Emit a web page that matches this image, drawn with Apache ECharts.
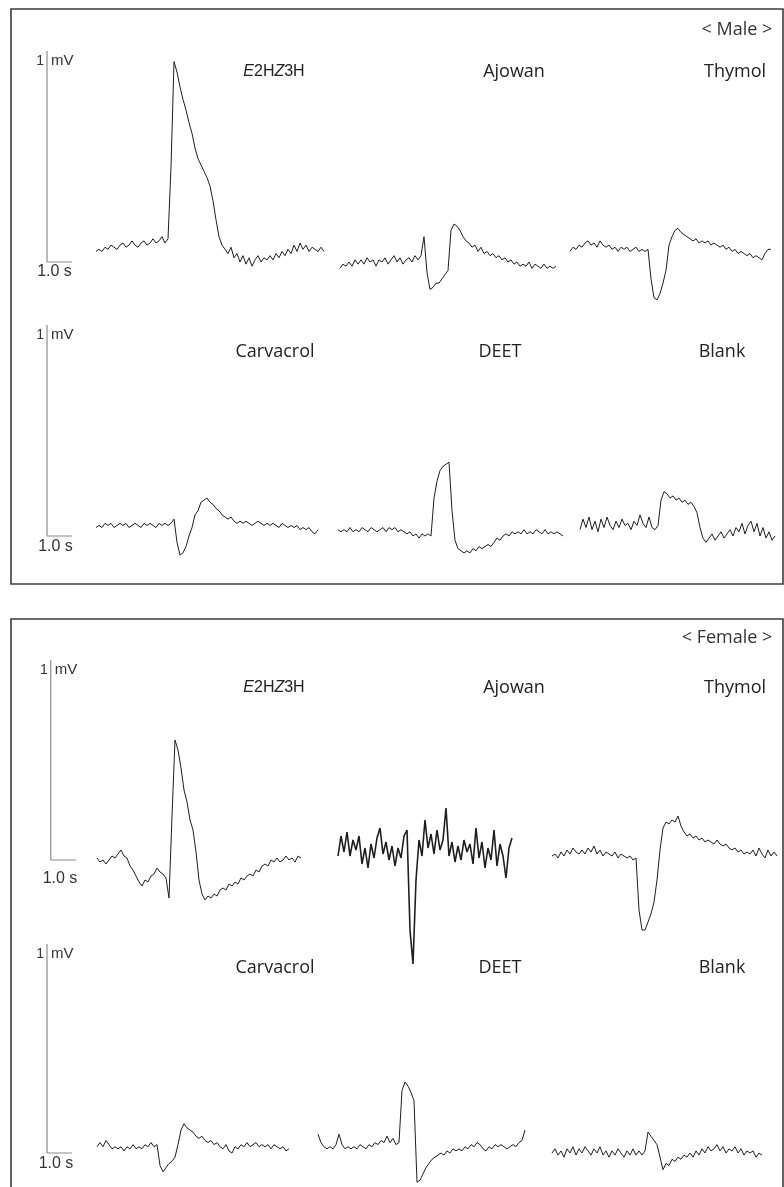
<!DOCTYPE html>
<html>
<head>
<meta charset="utf-8">
<title>EAG responses</title>
<script src="https://cdn.jsdelivr.net/npm/echarts@6/dist/echarts.min.js"></script>
<style>
  html, body { margin: 0; padding: 0; background: #fff; }
  #main { width: 784px; height: 1187px; }
</style>
</head>
<body>
<div id="main"></div>
<script>
// sample spacing of every trace (s)
const DT = 0.12;

const stimuli = ["E2HZ3H", "Ajowan", "Thymol", "Carvacrol", "DEET", "Blank"];
const sexLabels = ["< Male >", "< Female >"];
const scaleV = ["1", "mV"];
const scaleT = "1.0 s";

// start time (s) of each trace, same order as stimuli
const maleStarts = [1.96, 11.72, 20.92, 1.96, 11.64, 21.32];
const femaleStarts = [2.0, 11.64, 20.2, 2.0, 10.84, 20.2];

// EAG amplitude (mV), one value every DT seconds
const maleE2HZ3H = [0.05,0.06,0.05,0.07,0.06,0.08,0.07,0.06,0.08,0.09,0.07,0.08,0.10,0.08,0.07,0.09,0.10,0.08,0.09,0.11,0.09,0.10,0.12,0.09,0.11,
  0.45,0.95,
  0.90,0.83,0.77,0.72,0.66,0.61,0.54,0.49,0.46,0.43,0.40,0.36,0.29,0.20,0.12,0.08,
  0.06,0.04,0.07,0.02,0.04,0.00,0.03,-0.01,0.02,-0.02,0.01,0.03,0.00,0.02,0.01,0.03,0.01,0.04,0.02,0.05,0.03,0.06,0.04,0.08,0.05,0.09,0.06,0.08,0.05,0.07,0.06,0.05,0.07,0.05];
const maleAjowan = [-0.03,-0.01,-0.02,0.00,-0.02,0.01,-0.01,0.01,-0.01,0.02,0.00,0.01,-0.02,0.01,0.00,0.02,-0.01,0.01,0.03,0.00,0.02,-0.01,0.01,0.02,0.00,0.03,0.01,0.03,
  0.12,-0.05,-0.13,-0.12,-0.10,-0.10,-0.08,-0.06,-0.04,0.15,0.18,0.17,0.15,0.12,0.10,0.09,0.07,0.08,0.05,0.07,0.04,0.05,0.03,0.04,0.02,0.03,0.01,0.02,0.00,0.01,
  -0.01,0.00,-0.02,-0.01,-0.02,0.00,-0.03,-0.01,-0.02,-0.03,-0.01,-0.03,-0.02,-0.03,-0.02];
const maleThymol = [0.05,0.07,0.06,0.08,0.07,0.09,0.10,0.08,0.09,0.07,0.10,0.08,0.07,0.08,0.06,0.07,0.05,0.07,0.06,0.07,0.05,0.06,0.07,0.05,0.06,0.05,0.06,
  -0.08,-0.17,-0.18,-0.15,-0.10,-0.04,0.08,0.12,0.15,0.16,0.14,0.13,0.12,0.11,0.10,0.11,0.09,0.10,0.09,0.10,0.08,0.09,0.08,0.07,0.08,0.06,0.07,0.05,0.06,
  0.04,0.05,0.04,0.03,0.04,0.02,0.03,0.02,0.01,0.04,0.06,0.06];
const maleCarvacrol = [0.04,0.05,0.04,0.06,0.05,0.06,0.04,0.05,0.06,0.05,0.06,0.04,0.05,0.06,0.05,0.04,0.06,0.05,0.06,0.05,0.04,0.06,0.05,0.06,0.05,0.06,0.08,
  -0.03,-0.09,-0.08,-0.05,0.00,0.04,0.10,0.12,0.16,0.17,0.18,0.16,0.15,0.13,0.12,0.10,0.09,0.08,0.09,0.07,0.06,0.07,0.06,0.07,0.06,0.05,0.06,0.07,0.06,
  0.05,0.06,0.05,0.06,0.05,0.04,0.06,0.05,0.04,0.05,0.04,0.05,0.03,0.04,0.03,0.04,0.02,0.01,0.03];
const maleDEET = [0.03,0.02,0.03,0.02,0.04,0.02,0.03,0.02,0.04,0.03,0.02,0.04,0.03,0.02,0.03,0.04,0.02,0.04,0.03,0.04,0.02,0.03,0.02,0.01,0.02,0.00,0.01,-0.01,0.01,0.00,0.01,0.00,
  0.18,0.26,0.31,0.33,0.34,0.35,0.12,-0.02,-0.06,-0.07,-0.08,-0.07,-0.08,-0.06,-0.07,-0.05,-0.06,-0.05,-0.04,-0.05,-0.03,-0.01,-0.02,0.00,0.01,0.00,
  0.02,0.01,0.02,0.01,0.03,0.01,0.02,0.01,0.03,0.02,0.01,0.03,0.01,0.02,0.01,0.02,0.01,0.00];
const maleBlank = [0.03,0.08,0.04,0.09,0.03,0.07,0.02,0.08,0.04,0.09,0.05,0.03,0.07,0.04,0.08,0.05,0.06,0.03,0.07,0.05,0.10,0.06,0.04,0.09,0.04,0.03,0.05,
  0.17,0.21,0.20,0.18,0.19,0.17,0.18,0.16,0.17,0.15,0.16,0.14,0.11,0.04,-0.01,-0.03,-0.01,0.01,-0.02,0.00,0.02,-0.01,0.01,0.03,0.00,0.04,0.02,0.06,
  0.01,0.05,0.07,0.02,0.06,0.00,0.04,-0.01,0.02,-0.02,0.00];

const femaleE2HZ3H = [0.01,-0.01,0.00,-0.02,0.00,0.02,0.01,0.03,0.05,0.02,0.01,-0.03,-0.05,-0.08,-0.11,-0.13,-0.10,-0.11,-0.08,-0.07,-0.04,-0.06,-0.07,-0.09,-0.19,
  0.22,0.60,0.55,0.46,0.35,0.29,0.20,0.15,0.04,-0.10,-0.17,-0.20,-0.18,-0.19,-0.17,-0.18,-0.15,-0.14,-0.15,-0.12,-0.13,-0.11,-0.12,-0.09,-0.10,-0.08,
  -0.07,-0.08,-0.05,-0.06,-0.03,-0.02,-0.03,0.00,-0.01,0.01,-0.01,0.00,0.02,0.00,0.01,-0.01,0.02,0.01];
const femaleAjowan = [0.02,0.12,0.04,0.14,0.02,0.10,0.05,0.12,-0.02,0.06,-0.04,0.08,0.01,0.11,0.16,0.03,0.09,0.00,0.07,-0.03,0.06,0.01,0.12,0.15,
  -0.35,-0.52,-0.10,0.10,0.02,0.20,0.06,0.13,0.03,0.15,0.05,0.10,0.26,0.02,0.09,-0.01,0.07,0.00,0.10,0.04,0.08,-0.02,0.16,0.01,0.09,-0.04,0.06,0.00,
  0.15,-0.03,0.08,0.02,-0.09,0.06,0.11];
const femaleThymol = [0.02,0.03,0.01,0.04,0.02,0.05,0.03,0.06,0.04,0.03,0.05,0.03,0.06,0.04,0.07,0.03,0.05,0.02,0.04,0.03,0.02,0.04,0.01,0.03,0.02,0.01,0.02,0.00,0.01,
  -0.25,-0.35,-0.35,-0.31,-0.27,-0.21,-0.10,0.05,0.16,0.19,0.18,0.20,0.19,0.22,0.17,0.14,0.12,0.13,0.11,0.12,0.10,0.11,0.09,0.10,0.09,0.08,0.10,
  0.08,0.07,0.08,0.06,0.05,0.06,0.04,0.05,0.03,0.04,0.03,0.05,0.02,0.06,0.03,0.01,0.05,0.02,0.04,0.02];
const femaleCarvacrol = [0.03,0.05,0.03,0.06,0.04,0.02,0.03,0.02,0.03,0.01,0.03,0.02,0.04,0.02,0.03,0.02,0.04,0.03,0.05,0.03,0.04,
  -0.06,-0.09,-0.07,-0.05,-0.04,-0.02,0.04,0.11,0.14,0.12,0.11,0.10,0.08,0.07,0.08,0.06,0.05,0.06,0.04,0.05,0.03,0.02,0.04,0.01,0.00,0.03,0.02,
  0.04,0.03,0.05,0.03,0.04,0.05,0.03,0.04,0.03,0.04,0.02,0.04,0.03,0.02,0.03,0.01,0.02];
const femaleDEET = [0.09,0.05,0.03,0.02,0.03,0.02,0.04,0.09,0.04,0.02,0.03,0.02,0.03,0.02,0.04,0.03,0.02,0.04,0.03,0.05,0.04,0.06,0.05,0.08,0.05,0.07,0.04,0.05,
  0.30,0.34,0.32,0.29,0.25,-0.14,-0.13,-0.10,-0.07,-0.05,-0.03,-0.02,-0.01,0.00,-0.01,0.01,0.00,0.02,0.01,0.02,0.01,0.03,0.02,0.04,0.03,0.05,0.04,
  0.02,0.01,0.03,0.02,0.04,0.03,0.04,0.03,0.02,0.03,0.04,0.03,0.05,0.06,0.11];
const femaleBlank = [0.00,0.02,-0.01,0.01,-0.02,0.02,0.00,0.03,-0.01,0.02,0.00,0.03,0.01,-0.01,0.02,0.00,0.03,-0.01,0.01,-0.02,0.01,-0.01,0.02,0.00,-0.02,0.01,-0.01,0.02,-0.01,0.01,-0.01,0.01,
  0.10,0.08,0.06,0.04,-0.02,-0.08,-0.05,-0.06,-0.03,-0.04,-0.02,-0.03,-0.01,-0.02,0.00,-0.02,0.01,-0.01,0.02,0.00,0.03,0.01,0.02,0.04,0.01,0.03,
  0.00,0.02,0.01,0.03,0.00,0.02,-0.01,0.01,0.00,0.01,-0.02,0.00,-0.01];

const maleTraces = [maleE2HZ3H, maleAjowan, maleThymol, maleCarvacrol, maleDEET, maleBlank];
const femaleTraces = [femaleE2HZ3H, femaleAjowan, femaleThymol, femaleCarvacrol, femaleDEET, femaleBlank];

// layout: pixel of 0 mV, px per mV, lower axis limit, scale bar position (s) for each row
const PX_PER_S = 25;
const GRID_LEFT = 47;
const X_MAX = 29.5;
const Y_MAX = 1.05;
const rows = [
  { base: 262, ppm: 211, yMin: -0.65, bar: 0, labelY: 72, labelX: [274, 514, 735], timeX: 54.5, timeY: 272 },
  { base: 536, ppm: 211, yMin: -0.65, bar: 0, labelY: 352, labelX: [275, 500, 722], timeX: 55.5, timeY: 547 },
  { base: 860, ppm: 200, yMin: -0.65, bar: 0.15, labelY: 688, labelX: [274, 514, 735], timeX: 60, timeY: 879 },
  { base: 1153, ppm: 209, yMin: -0.15, bar: 0, labelY: 968, labelX: [275, 500, 722], timeX: 56, timeY: 1164 }
];

function toPoints(start, values) {
  return values.map((v, i) => [+(start + i * DT).toFixed(3), v]);
}

const centered = { textAlign: "center", align: "center", textVerticalAlign: "middle", verticalAlign: "middle" };

const grids = [], xAxes = [], yAxes = [], series = [], texts = [];

rows.forEach((row, r) => {
  grids.push({
    left: GRID_LEFT,
    width: X_MAX * PX_PER_S,
    top: row.base - Y_MAX * row.ppm,
    height: (Y_MAX - row.yMin) * row.ppm,
    outerBoundsMode: "none",
    containLabel: false
  });
  xAxes.push({ gridIndex: r, type: "value", min: 0, max: X_MAX, show: false });
  yAxes.push({ gridIndex: r, type: "value", min: row.yMin, max: Y_MAX, show: false });

  // scale bar: 1 mV up, 1.0 s across
  series.push({
    type: "line",
    xAxisIndex: r,
    yAxisIndex: r,
    data: [[row.bar, 1], [row.bar, 0], [row.bar + 1, 0]],
    showSymbol: false,
    lineStyle: { color: "#8c8c8c", width: 1.2 },
    silent: true
  });

  const female = r >= 2;
  const traces = female ? femaleTraces : maleTraces;
  const starts = female ? femaleStarts : maleStarts;
  for (let k = 0; k < 3; k++) {
    const idx = (r % 2) * 3 + k;
    series.push({
      name: (female ? "Female " : "Male ") + stimuli[idx],
      type: "line",
      xAxisIndex: r,
      yAxisIndex: r,
      data: toPoints(starts[idx], traces[idx]),
      showSymbol: false,
      lineStyle: { color: "#1e1e1e", width: female && idx === 1 ? 1.6 : 1 }
    });

    const label = stimuli[idx];
    if (label === "E2HZ3H") {
      texts.push({
        type: "text", x: row.labelX[k], y: row.labelY,
        style: Object.assign({
          text: "{i|E}2H{i|Z}3H",
          rich: { i: { fontStyle: "italic", fontFamily: "Liberation Sans", fontSize: 16, fill: "#222" } },
          fontFamily: "Liberation Sans", fontSize: 16, fill: "#222"
        }, centered)
      });
    } else {
      texts.push({
        type: "text", x: row.labelX[k], y: row.labelY,
        style: Object.assign({ text: label, fontFamily: "Open Sans", fontSize: 18, fill: "#222" }, centered)
      });
    }
  }

  // scale bar labels
  const bx = GRID_LEFT + row.bar * PX_PER_S;
  const topY = row.base - row.ppm;
  texts.push({
    type: "text", x: bx - 3, y: topY + 10,
    style: { text: scaleV[0], fontFamily: "Liberation Sans", fontSize: 14, fill: "#333",
      textAlign: "right", align: "right", textVerticalAlign: "middle", verticalAlign: "middle" }
  });
  texts.push({
    type: "text", x: bx + 4, y: topY + 10,
    style: { text: scaleV[1], fontFamily: "Liberation Sans", fontSize: 15, fill: "#333",
      textAlign: "left", align: "left", textVerticalAlign: "middle", verticalAlign: "middle" }
  });
  texts.push({
    type: "text", x: row.timeX, y: row.timeY,
    style: Object.assign({ text: scaleT, fontFamily: "Liberation Sans", fontSize: 16, fill: "#333" }, centered)
  });
});

// panel frames and sex labels
const frames = [
  { type: "rect", shape: { x: 11, y: 9, width: 772, height: 575 },
    style: { fill: "none", stroke: "#3c3c3c", lineWidth: 1.6 } },
  { type: "rect", shape: { x: 11, y: 619, width: 772, height: 600 },
    style: { fill: "none", stroke: "#3c3c3c", lineWidth: 1.6 } },
  { type: "text", x: 737, y: 30,
    style: Object.assign({ text: sexLabels[0], fontFamily: "Open Sans", fontSize: 18, fill: "#333" }, centered) },
  { type: "text", x: 727, y: 638,
    style: Object.assign({ text: sexLabels[1], fontFamily: "Open Sans", fontSize: 18, fill: "#333" }, centered) }
];

const chart = echarts.init(document.getElementById("main"));
chart.setOption({
  animation: false,
  backgroundColor: "#fff",
  grid: grids,
  xAxis: xAxes,
  yAxis: yAxes,
  series: series,
  graphic: { elements: frames.concat(texts) }
});
window.addEventListener("resize", () => chart.resize());
</script>
</body>
</html>
